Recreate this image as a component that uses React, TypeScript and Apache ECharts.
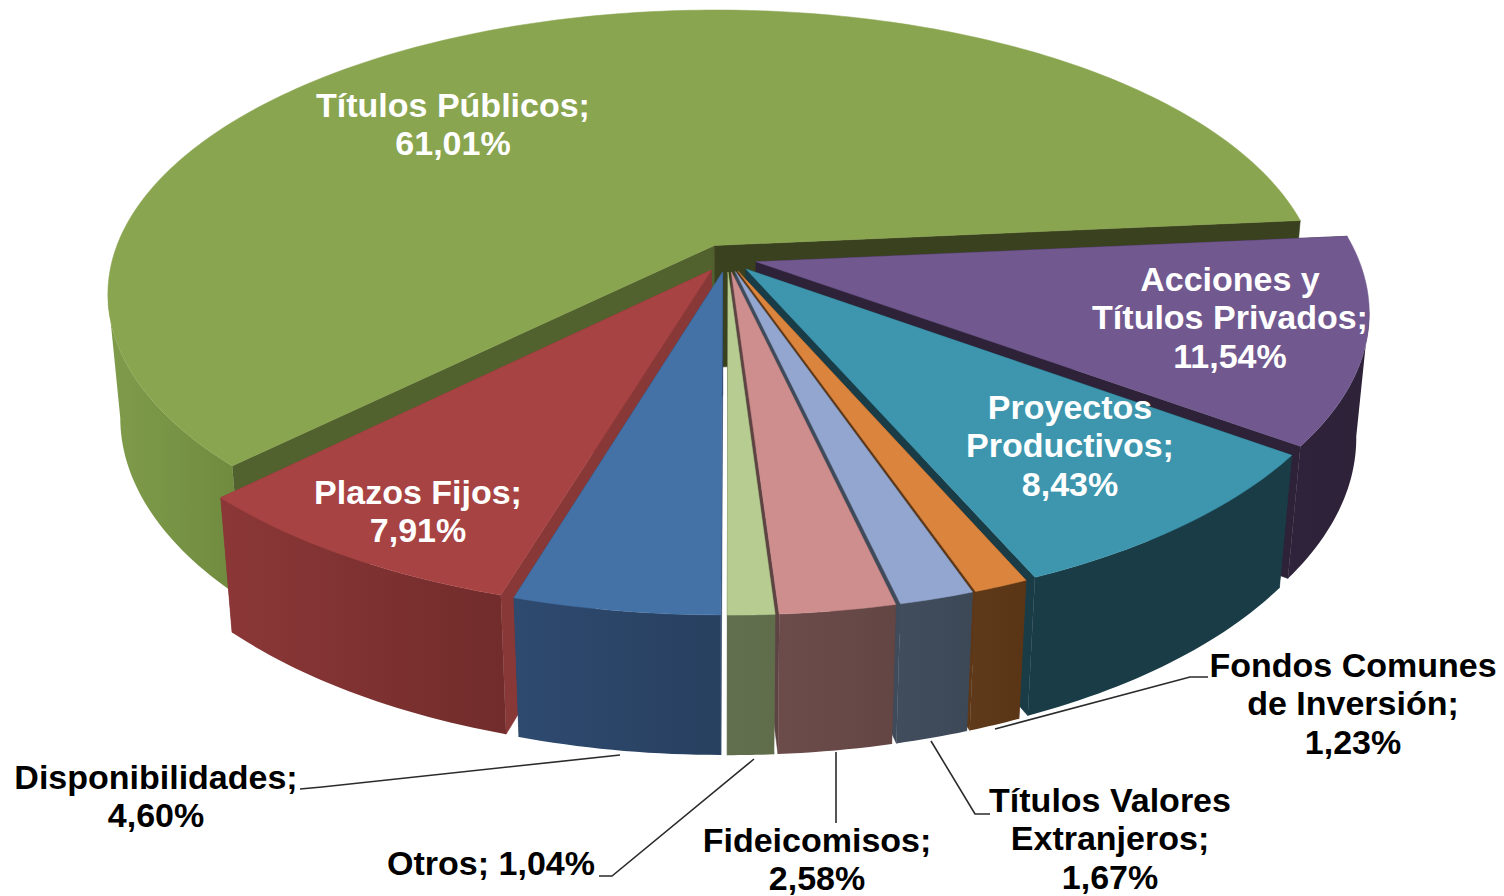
import React, { useEffect, useRef } from "react";
import * as echarts from "echarts";

// ---- data ----
const categories = [
  "Títulos Públicos",
  "Acciones y Títulos Privados",
  "Proyectos Productivos",
  "Fondos Comunes de Inversión",
  "Títulos Valores Extranjeros",
  "Fideicomisos",
  "Otros",
  "Disponibilidades",
  "Plazos Fijos",
];
const values = [61.01, 11.54, 8.43, 1.23, 1.67, 2.58, 1.04, 4.6, 7.91];
const percentTexts = ["61,01%", "11,54%", "8,43%", "1,23%", "1,67%", "2,58%", "1,04%", "4,60%", "7,91%"];
const nameLines = [
  ["Títulos Públicos;"],
  ["Acciones y", "Títulos Privados;"],
  ["Proyectos", "Productivos;"],
  ["Fondos Comunes", "de Inversión;"],
  ["Títulos Valores", "Extranjeros;"],
  ["Fideicomisos;"],
  ["Otros;"],
  ["Disponibilidades;"],
  ["Plazos Fijos;"],
];

// ---- styles ----
const topColors = ["#8aa550", "#71588f", "#3d96ae", "#db843d", "#92a6cf", "#ce8e8e", "#b7cc91", "#4471a6", "#a84343"];
const wallColors = [
  ["#7f9c4b", "#6f8a3e"],
  ["#2e233a", "#2d2238"],
  ["#1a3c47", "#1a3c47"],
  ["#5f3a1a", "#593516"],
  ["#414c5d", "#3d4857"],
  ["#6c4c4a", "#634644"],
  ["#616f4e", "#5f6d4b"],
  ["#2e4a6f", "#284060"],
  ["#8c3737", "#712c2b"],
];
const edgeLowColors = ["#52622e", "#2d2238", "#1a3c47", "#5c3718", "#3f4a5a", "#5e4343", "#5f6d4c", "#2b4568", "#893838"];
const edgeHighColors = ["#3a411f", "#2d2238", "#1a3c47", "#5c3718", "#3f4a5a", "#5e4343", "#3a411f", "#2b4568", "#893838"];
const labelColors = ["#fff", "#fff", "#fff", "#000", "#000", "#000", "#000", "#000", "#fff"];
// label centre [x, y] of the text block
const labelPos = [
  [453, 124],
  [1230, 317],
  [1070, 445],
  [1353, 703],
  [1110, 838],
  [817, 859],
  [491, 863],
  [156, 796],
  [418, 511],
];
const leaderLines = [
  [[300, 789], [322, 787], [620, 755]],
  [[599, 876], [612, 876], [754, 759]],
  [[836, 752], [836, 823]],
  [[990, 814], [975, 814], [931, 741]],
  [[1208, 677], [1190, 677], [995, 729]],
];

// ---- projection of the tilted disc ----
const CX = 727, CY = 258, A = 602, B = 279.4, K = 0.17, M = 0.02, H = 125, EXPLODE = 0.05;
const START_ANGLE = 225.1;
// angles at which the cylinder's side turns away from the viewer
const SILHOUETTE_RIGHT = (Math.acos(-K) * 180) / Math.PI;
const SILHOUETTE_LEFT = 360 - SILHOUETTE_RIGHT;
const project = (X: number, Z: number, D: number): number[] => {
  const w = 1 + K * Z + M * D;
  return [CX + (A * X) / w, CY + (-B * Z + H * D) / w];
};
const rad = (d: number) => (d * Math.PI) / 180;
const total = values.reduce((s, v) => s + v, 0);
const slices = (() => {
  let a = START_ANGLE;
  return values.map((v) => {
    const start = a;
    const end = a + (v / total) * 360;
    a = end >= 360 ? end - 360 : end;
    return { start, end, mid: (start + end) / 2 };
  });
})();
const backDist = (deg: number) => {
  const d = ((deg % 360) + 360) % 360;
  return Math.min(d, 360 - d);
};
const drawOrder = values.map((_, i) => i).sort((p, q) => backDist(slices[p].mid) - backDist(slices[q].mid));

const renderSlice = (_params: any, api: any) => {
  const i = api.value(0);
  const s = slices[i];
  const ex = EXPLODE * Math.sin(rad(s.mid));
  const ez = EXPLODE * Math.cos(rad(s.mid));
  const rim = (deg: number, D: number) => project(ex + Math.sin(rad(deg)), ez + Math.cos(rad(deg)), D);
  const apex = (D: number) => project(ex, ez, D);
  const steps = Math.max(8, Math.ceil(s.end - s.start));
  const angles: number[] = [];
  for (let n = 0; n <= steps; n++) angles.push(s.start + ((s.end - s.start) * n) / steps);

  const children: any[] = [];
  const quad = (pts: number[][], fill: any) => ({
    type: "polygon",
    shape: { points: pts },
    style: { fill, stroke: typeof fill === "string" ? fill : undefined, lineWidth: 0.5 },
  });
  // radial walls
  children.push(quad([apex(0), rim(s.start, 0), rim(s.start, 1), apex(1)], edgeLowColors[i]));
  children.push(quad([apex(0), rim(s.end, 0), rim(s.end, 1), apex(1)], edgeHighColors[i]));
  // outer wall: only the part facing the viewer, cut at the silhouette so that it never folds
  const lo = Math.max(s.start, SILHOUETTE_RIGHT);
  const hi = Math.min(s.end, SILHOUETTE_LEFT);
  if (hi > lo) {
    const run: number[] = [lo];
    angles.forEach((d) => {
      if (d > lo && d < hi) run.push(d);
    });
    run.push(hi);
    const pts = run.map((d) => rim(d, 0)).concat(run.slice().reverse().map((d) => rim(d, 1)));
    children.push(
      quad(pts, {
        type: "linear",
        x: 0,
        y: 0,
        x2: 1,
        y2: 0,
        colorStops: [
          { offset: 0, color: wallColors[i][0] },
          { offset: 1, color: wallColors[i][1] },
        ],
      })
    );
  }
  // top face
  children.push(quad([apex(0)].concat(angles.map((d) => rim(d, 0))), topColors[i]));
  return { type: "group", children };
};

export default function App() {
  const ref = useRef<HTMLDivElement>(null);
  useEffect(() => {
    const chart = echarts.init(ref.current!, undefined, { renderer: "svg" });
    const labels = categories.map((_, i) => {
      const single = i === 6;
      const text = single ? `${nameLines[i][0]} ${percentTexts[i]}` : [...nameLines[i], percentTexts[i]].join("\n");
      return {
        type: "text",
        x: labelPos[i][0],
        y: labelPos[i][1],
        z: 10,
        style: {
          text,
          fill: labelColors[i],
          fontFamily: "Liberation Sans",
          fontWeight: "bold",
          fontSize: 34,
          lineHeight: 38.5,
          textAlign: "center",
          textVerticalAlign: "middle",
        },
      };
    });
    const leaders = leaderLines.map((pts) => ({
      type: "polyline",
      z: 5,
      shape: { points: pts },
      style: { stroke: "#2b2b2b", lineWidth: 1.6, fill: "none" },
    }));
    chart.setOption({
      animation: false,
      backgroundColor: "#ffffff",
      series: [
        {
          type: "custom",
          coordinateSystem: "none",
          renderItem: renderSlice,
          silent: true,
          clip: false,
          data: drawOrder.map((i) => ({ name: categories[i], value: [i, values[i]] })),
        },
      ],
      graphic: { elements: [...leaders, ...labels] },
    });
    return () => chart.dispose();
  }, []);
  return <div ref={ref} style={{ position: "absolute", left: 0, top: 0, width: 1504, height: 896 }} />;
}
